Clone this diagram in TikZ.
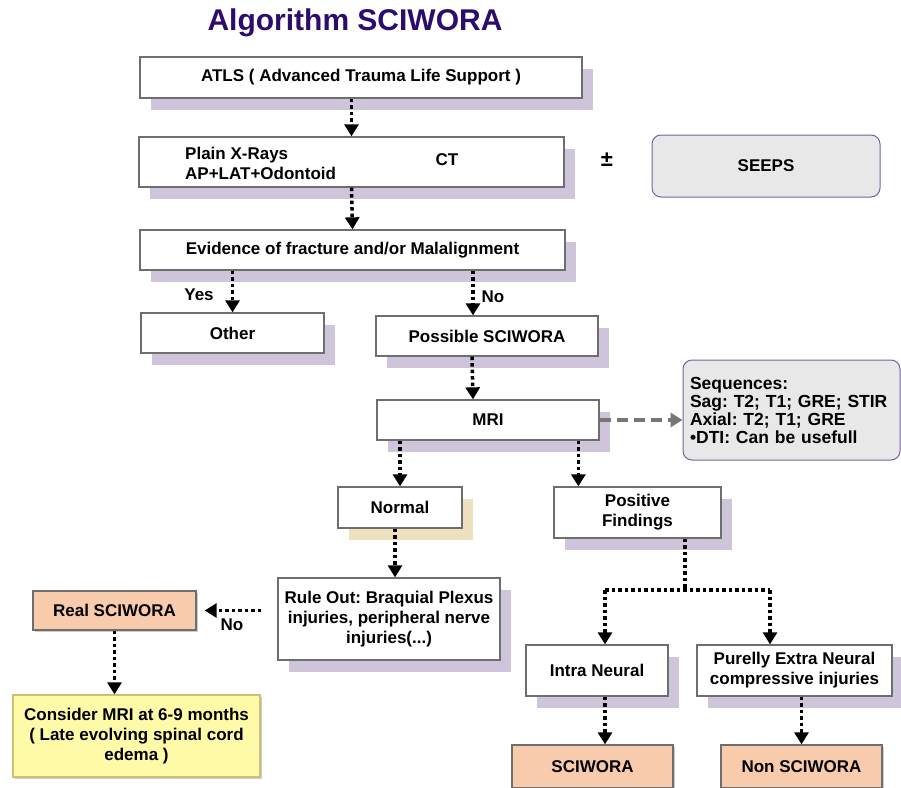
\documentclass[tikz,border=0pt]{standalone}
\usepackage{fontspec}
\setmainfont{Liberation Sans}
\usepackage{tikz}
\usetikzlibrary{arrows.meta, positioning, calc, shadows}
\definecolor{titlepurple}{HTML}{2C0C6C}
\definecolor{boxline}{HTML}{6E6E6E}
\definecolor{lavshadow}{HTML}{CEC5DA}
\definecolor{beigeshadow}{HTML}{EDE1BF}
\definecolor{peach}{HTML}{F8CBAD}
\definecolor{paleyellow}{HTML}{FFFAA8}
\definecolor{yellowline}{HTML}{CDBF73}
\definecolor{seqfill}{HTML}{E8E8E8}
\definecolor{seqline}{HTML}{7A5FA8}
\definecolor{dashgray}{HTML}{767676}
\newcommand\boxfont{\fontsize{17}{20}\selectfont\bfseries}
\frenchspacing

\begin{document}
\begin{tikzpicture}[x=1pt, y=-1pt,
  box/.style={rectangle, draw=boxline, line width=1.3pt, fill=#1,
              align=center, font=\boxfont, inner sep=2pt},
  box/.default=white,
  lav/.style={drop shadow={shadow xshift=11pt, shadow yshift=-12pt,
              fill=lavshadow, opacity=1}},
  beige/.style={drop shadow={shadow xshift=11pt, shadow yshift=-12pt,
              fill=beigeshadow, opacity=1}},
  soft/.style={drop shadow={shadow xshift=2pt, shadow yshift=-2pt,
              fill=black!40, opacity=.5}},
  note/.style={rectangle, rounded corners=9pt, draw=seqline, line width=1pt,
               fill=seqfill, font=\boxfont},
  txt/.style={font=\boxfont, inner sep=1pt},
  flowline/.style={line width=3.5pt, dash pattern=on 3.5pt off 3pt},
  flow/.style={flowline, -{Triangle[width=14pt,length=12pt]}},
]
\useasboundingbox (0,0) rectangle (901,787);

%% Title
\node[font=\fontsize{30}{34}\selectfont\bfseries, text=titlepurple] (title) at (355,23)
  {Algorithm SCIWORA};

%% Upper chain
\node[box, lav, minimum width=442pt, minimum height=41pt] (atls) at (361,77.5)
  {ATLS ( Advanced Trauma Life Support )};
\node[box, lav, minimum width=425pt, minimum height=50pt] (xray) at (351.5,162) {};
\node[txt, anchor=west, align=left] (plain) at (184,163.5) {Plain X-Rays\\AP+LAT+Odontoid};
\node[txt] (ct) at (447,160) {CT};
\node[font=\fontsize{22}{24}\selectfont\bfseries] (pm) at (607,160) {±};
\node[note, minimum width=228pt, minimum height=62pt] (seeps) at (766,166) {SEEPS};
\node[box, lav, minimum width=425pt, minimum height=40pt] (evid) at (352.5,250)
  {Evidence of fracture and/or Malalignment};

%% Yes / No split
\node[box, lav, minimum width=183pt, minimum height=40pt] (other) at (232.5,333) {Other};
\node[box, lav, minimum width=222pt, minimum height=40pt] (poss) at (487,336) {Possible SCIWORA};
\node[box, lav, minimum width=222pt, minimum height=40pt] (mri) at (488,420) {MRI};
\node[note, minimum width=217pt, minimum height=100pt, text width=203pt, align=left,
      font=\fontsize{17.5}{18}\selectfont\bfseries] (seq) at (791.5,410)
  {Sequences:\\Sag: T2; T1; GRE; STIR\\Axial: T2; T1; GRE\\•DTI: Can be usefull};

%% MRI outcomes
\node[box, beige, minimum width=124pt, minimum height=41pt] (normal) at (400,507.5) {Normal};
\node[box, lav, minimum width=167pt, minimum height=51pt] (pos) at (637.5,512.5)
  {Positive\\Findings};
\node[box, lav, minimum width=222pt, minimum height=82pt] (rule) at (389,619)
  {Rule Out: Braquial Plexus\\injuries, peripheral nerve\\injuries(...)};
\node[box=peach, soft, minimum width=163pt, minimum height=39pt] (real) at (114.5,610.5)
  {Real SCIWORA};
\node[box=paleyellow, draw=yellowline, soft, minimum width=247pt, minimum height=82pt]
  (cons) at (136.5,736) {Consider MRI at 6-9 months\\( Late evolving spinal cord\\edema )};
\node[box, lav, minimum width=142pt, minimum height=51pt] (intra) at (597,670.5) {Intra Neural};
\node[box, lav, minimum width=195pt, minimum height=51pt] (pure) at (794.5,670.5)
  {Purelly Extra Neural\\compressive injuries};
\node[box=peach, soft, minimum width=161pt, minimum height=43pt] (sciw) at (592.5,766.5) {SCIWORA};
\node[box=peach, soft, minimum width=161pt, minimum height=43pt] (non) at (801.5,766.5) {Non SCIWORA};

%% Connectors
\draw[flow] (atls.south -| xray.north) -- (xray.north);
\draw[flow] (xray.south) -- (evid.north);
\draw[flow] (evid.south -| other.north) -- (other.north);
\node[txt] (yes) at (199,295) {Yes};
\draw[flow] ([xshift=-14pt]poss.north |- evid.south) -- ([xshift=-14pt]poss.north);
\node[txt] (no1) at (493,297) {No};
\draw[flow] ([xshift=-15pt]poss.south) -- ([xshift=-15pt]mri.north);
\draw[dashgray, line width=4pt, dash pattern=on 11pt off 6pt,
      -{Triangle[width=14pt,length=12pt]}] (mri.east) -- (seq.west |- mri.east);
\draw[flow] (mri.south -| normal.north) -- (normal.north);
\draw[flow] ([xshift=25pt]pos.north west |- mri.south) -- ([xshift=25pt]pos.north west);
\draw[flow] ([xshift=-5pt]normal.south) -- ([xshift=-5pt]normal.south |- rule.north);
\draw[flow] ([xshift=-16pt]rule.west |- real.east) -- ([xshift=8pt]real.east);
\node[txt] (no2) at (232,625) {No};
\draw[flow] (real.south) -- (real.south |- cons.north);

%% Positive findings branch
\coordinate (split) at (685,590);
\coordinate (lbranch) at (605,590);
\coordinate (rbranch) at (770,590);
\draw[flowline] (pos.south -| split) -- (split);
\draw[flowline] (lbranch) -- (rbranch);
\draw[flow] (lbranch) -- (lbranch |- intra.north);
\draw[flow] (rbranch) -- (rbranch |- pure.north);
\draw[flow] (intra.south -| lbranch) -- (sciw.north -| lbranch);
\draw[flow] (pure.south -| non.north) -- (non.north);
\end{tikzpicture}
\end{document}
